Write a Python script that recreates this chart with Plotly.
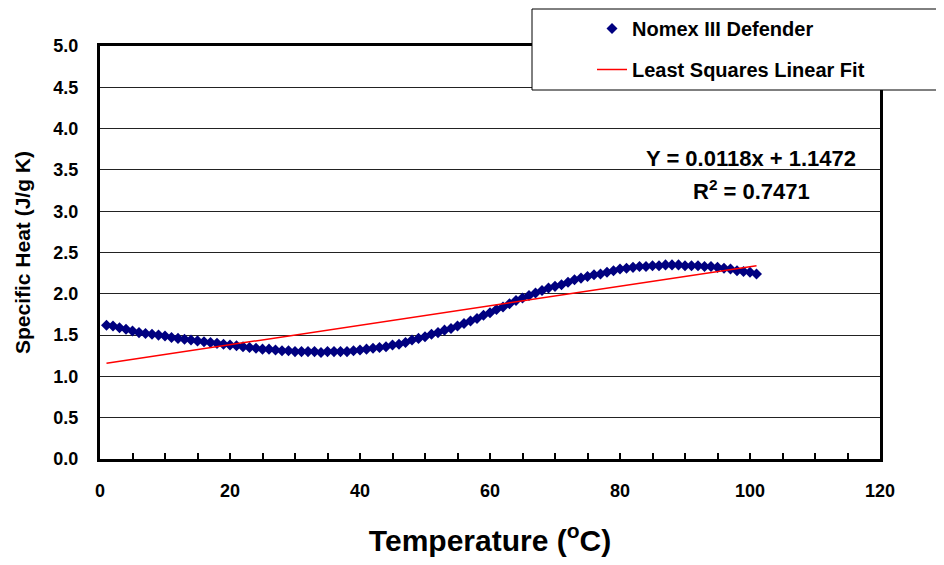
import plotly.graph_objects as go

# ---- data ----
temperature = list(range(1, 102))
specific_heat = [
    1.62, 1.61, 1.59, 1.57, 1.55, 1.53, 1.52, 1.51, 1.50, 1.49,
    1.47, 1.46, 1.45, 1.44, 1.43, 1.42, 1.41, 1.40, 1.39, 1.38,
    1.37, 1.36, 1.35, 1.34, 1.33, 1.33, 1.32, 1.31, 1.31, 1.30,
    1.30, 1.30, 1.30, 1.29, 1.30, 1.30, 1.30, 1.30, 1.31, 1.32,
    1.33, 1.34, 1.35, 1.36, 1.38, 1.39, 1.41, 1.44, 1.46, 1.48,
    1.51, 1.53, 1.56, 1.58, 1.61, 1.64, 1.67, 1.70, 1.74, 1.77,
    1.81, 1.84, 1.88, 1.92, 1.95, 1.98, 2.01, 2.04, 2.07, 2.09,
    2.11, 2.14, 2.17, 2.19, 2.21, 2.23, 2.24, 2.26, 2.28, 2.30,
    2.31, 2.32, 2.33, 2.33, 2.34, 2.34, 2.35, 2.35, 2.35, 2.34,
    2.34, 2.34, 2.33, 2.33, 2.32, 2.31, 2.30, 2.28, 2.27, 2.26,
    2.24,
]
fit_slope = 0.0118
fit_intercept = 1.1472
fit_r2 = 0.7471
fit_x = [1, 101]
fit_y = [fit_slope * x + fit_intercept for x in fit_x]

series_names = ["Nomex III Defender", "Least Squares Linear Fit"]
x_tick_vals = [0, 20, 40, 60, 80, 100, 120]
y_tick_vals = [0.0, 0.5, 1.0, 1.5, 2.0, 2.5, 3.0, 3.5, 4.0, 4.5, 5.0]

FONT = "Liberation Sans, Arial, sans-serif"

fig = go.Figure()
fig.add_trace(go.Scatter(
    x=temperature, y=specific_heat, mode="markers", name=series_names[0],
    legendgroup="a",
    marker=dict(symbol="diamond", size=8.5, color="#000080"),
))
fig.add_trace(go.Scatter(
    x=fit_x, y=fit_y, mode="lines", name=series_names[1],
    legendgroup="b",
    line=dict(color="#FF0000", width=1.5),
))

# page body has an 8px margin, so the figure is sized/placed to compensate
OFF = 8
W, H = 928, 549
L, R, T, B = 100 - OFF, W - (880 - OFF), 46 - OFF, H - (459 - OFF)
pw, ph = W - L - R, H - T - B

def px_x(p):
    return (p - OFF - L) / pw

def px_y(p):
    return (H - B - (p - OFF)) / ph

# legend box
fig.add_shape(type="rect", xref="paper", yref="paper",
              x0=px_x(532), x1=px_x(990), y0=px_y(90), y1=px_y(9),
              fillcolor="white", line=dict(color="black", width=1), layer="above")

fig.add_annotation(xref="paper", yref="paper", x=px_x(751), y=px_y(158),
                   text=f"Y = {fit_slope}x + {fit_intercept}", showarrow=False,
                   font=dict(family=FONT, size=22, color="black", weight="bold"),
                   xanchor="center", yanchor="middle")
fig.add_annotation(xref="paper", yref="paper", x=px_x(751), y=px_y(190),
                   text=f"R<sup>2</sup> = {fit_r2}", showarrow=False,
                   font=dict(family=FONT, size=22, color="black", weight="bold"),
                   xanchor="center", yanchor="middle")

fig.update_layout(
    width=W, height=H,
    margin=dict(l=L, r=R, t=T, b=B, autoexpand=False),
    paper_bgcolor="white", plot_bgcolor="white",
    font=dict(family=FONT, color="black", weight="bold"),
    showlegend=True,
    legend=dict(
        x=px_x(592), y=px_y(9), xanchor="left", yanchor="top",
        bgcolor="rgba(0,0,0,0)", borderwidth=0,
        font=dict(family=FONT, size=20, color="black", weight="bold"),
        tracegroupgap=12,
    ),
    xaxis=dict(
        range=[0, 120], tickvals=x_tick_vals, showgrid=False, zeroline=False,
        ticks="inside", ticklen=6, tickwidth=2, tickcolor="black",
        minor=dict(dtick=5, ticks="inside", ticklen=6, tickwidth=2, tickcolor="black"),
        showline=True, linewidth=3, linecolor="black", mirror=True,
        tickfont=dict(family=FONT, size=18, color="black", weight="bold"),
        ticklabelstandoff=13,
        title=dict(text="Temperature (<sup>o</sup>C)", standoff=33,
                   font=dict(family=FONT, size=30, color="black", weight="bold")),
    ),
    yaxis=dict(
        range=[0, 5], tickvals=y_tick_vals, tickformat=".1f",
        showgrid=True, gridcolor="#222222", gridwidth=1, zeroline=False,
        ticks="", showline=True, linewidth=3, linecolor="black", mirror=True,
        tickfont=dict(family=FONT, size=18, color="black", weight="bold"),
        ticklabelstandoff=15,
        title=dict(text="Specific Heat (J/g K)", standoff=18,
                   font=dict(family=FONT, size=21, color="black", weight="bold")),
    ),
)

fig.write_html("out.html")
